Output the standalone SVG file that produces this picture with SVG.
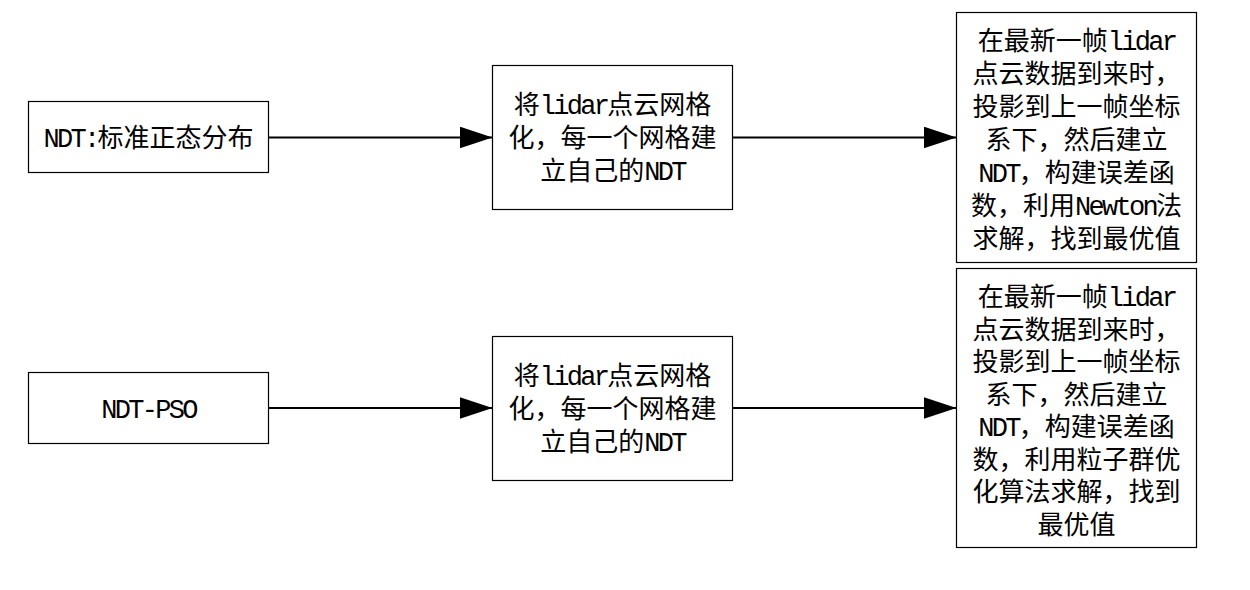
<svg xmlns="http://www.w3.org/2000/svg" width="1250" height="590" viewBox="0 0 1250 590">
<style>
.box{fill:#fff;stroke:#000;stroke-width:1.2}
.t{font-family:"Liberation Mono","Noto Sans CJK SC",monospace;font-size:26px;fill:#000;text-anchor:middle}
.l{font-size:27px;letter-spacing:-2.7px}
.c{stroke:#000;stroke-width:2;fill:none}
</style>
<defs>
<marker id="ah" markerUnits="userSpaceOnUse" markerWidth="34" markerHeight="22" refX="33" refY="11" orient="auto">
<path d="M0,0 L33,11 L0,22 Z" fill="#000"/>
</marker>
</defs>
<rect width="1250" height="590" fill="#fff"/>
<g id="connectors">
<line class="c" x1="268.5" y1="137.5" x2="492.5" y2="137.5" marker-end="url(#ah)"/>
<line class="c" x1="732.5" y1="137.5" x2="956.5" y2="137.5" marker-end="url(#ah)"/>
<line class="c" x1="268.5" y1="408" x2="492.5" y2="408" marker-end="url(#ah)"/>
<line class="c" x1="732.5" y1="408" x2="956.5" y2="408" marker-end="url(#ah)"/>
</g>
<g id="n1">
<rect class="box" x="28.5" y="101.5" width="240" height="71"/>
<text class="t" x="148.5" y="147"><tspan class="l">NDT:</tspan>标准正态分布</text>
</g>
<g id="n2">
<rect class="box" x="492.5" y="65.5" width="240" height="144"/>
<text class="t" x="612.5" y="114">将<tspan class="l">lidar</tspan>点云网格</text>
<text class="t" x="612.5" y="147">化，每一个网格建</text>
<text class="t" x="612.5" y="179.5">立自己的<tspan class="l">NDT</tspan></text>
</g>
<g id="n3">
<rect class="box" x="956.5" y="12.5" width="240" height="250"/>
<text class="t" x="1076.5" y="50">在最新一帧<tspan class="l">lidar</tspan></text>
<text class="t" x="1076.5" y="83">点云数据到来时，</text>
<text class="t" x="1076.5" y="116">投影到上一帧坐标</text>
<text class="t" x="1076.5" y="149">系下，然后建立</text>
<text class="t" x="1076.5" y="182"><tspan class="l">NDT</tspan>，构建误差函</text>
<text class="t" x="1076.5" y="215">数，利用<tspan class="l">Newton</tspan>法</text>
<text class="t" x="1076.5" y="248">求解，找到最优值</text>
</g>
<g id="n4">
<rect class="box" x="28.5" y="372.5" width="240" height="71"/>
<text class="t" x="148.5" y="418"><tspan class="l">NDT-PSO</tspan></text>
</g>
<g id="n5">
<rect class="box" x="492.5" y="336.5" width="240" height="144"/>
<text class="t" x="612.5" y="385">将<tspan class="l">lidar</tspan>点云网格</text>
<text class="t" x="612.5" y="418">化，每一个网格建</text>
<text class="t" x="612.5" y="450.5">立自己的<tspan class="l">NDT</tspan></text>
</g>
<g id="n6">
<rect class="box" x="956.5" y="268.5" width="240" height="279"/>
<text class="t" x="1076.5" y="306">在最新一帧<tspan class="l">lidar</tspan></text>
<text class="t" x="1076.5" y="338.5">点云数据到来时，</text>
<text class="t" x="1076.5" y="371">投影到上一帧坐标</text>
<text class="t" x="1076.5" y="403.5">系下，然后建立</text>
<text class="t" x="1076.5" y="436"><tspan class="l">NDT</tspan>，构建误差函</text>
<text class="t" x="1076.5" y="468.5">数，利用粒子群优</text>
<text class="t" x="1076.5" y="501">化算法求解，找到</text>
<text class="t" x="1076.5" y="533.5">最优值</text>
</g>
</svg>
